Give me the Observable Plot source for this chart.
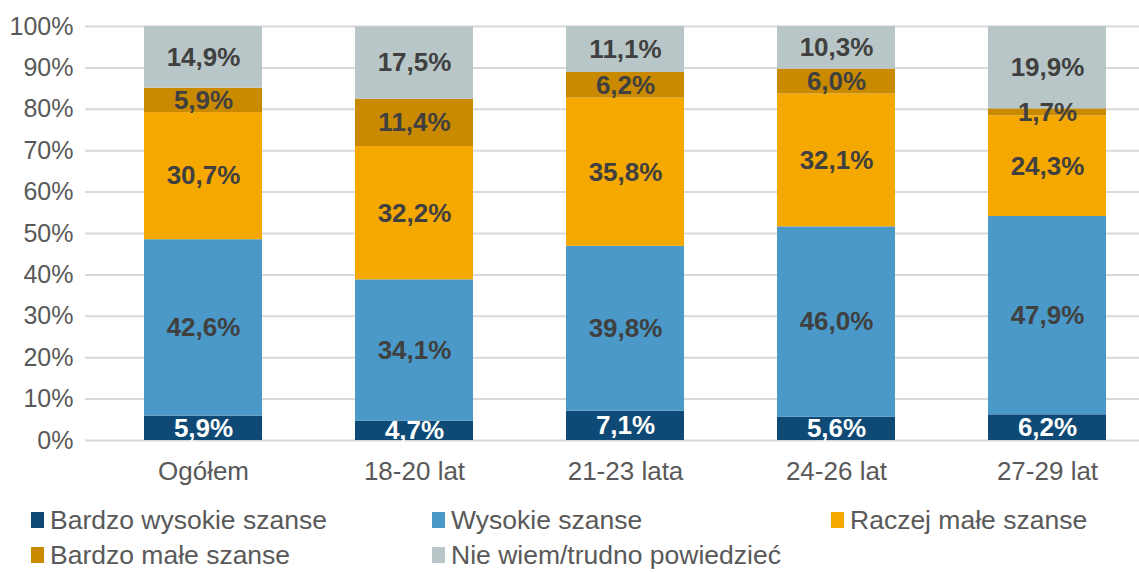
<!DOCTYPE html>
<html><head><meta charset="utf-8">
<script src="https://cdn.jsdelivr.net/npm/d3@7"></script>
<script src="https://cdn.jsdelivr.net/npm/@observablehq/plot@0.6"></script>
<style>
body{margin:0;background:#fff;font-family:"Liberation Sans",Arial,sans-serif;}
#legend{position:relative;width:1139px;height:77px;}
.item{position:absolute;display:flex;align-items:center;height:30px;}
.sw{width:13px;height:16px;margin-right:6px;}
.lbl{font-size:26.5px;color:#595959;white-space:nowrap;}
</style></head>
<body>
<div id="chart"></div>
<div id="legend"></div>
<script>
const categories = ["Ogółem", "18-20 lat", "21-23 lata", "24-26 lat", "27-29 lat"];
const seriesNames = ["Bardzo wysokie szanse", "Wysokie szanse", "Raczej małe szanse", "Bardzo małe szanse", "Nie wiem/trudno powiedzieć"];
const colors = ["#0E4A75", "#4A99C8", "#F5A800", "#C98A00", "#B8C6C7"];
const bardzoWysokie = [5.9, 4.7, 7.1, 5.6, 6.2];
const wysokie = [42.6, 34.1, 39.8, 46.0, 47.9];
const raczejMale = [30.7, 32.2, 35.8, 32.1, 24.3];
const bardzoMale = [5.9, 11.4, 6.2, 6.0, 1.7];
const nieWiem = [14.9, 17.5, 11.1, 10.3, 19.9];
const yTicks = [0, 10, 20, 30, 40, 50, 60, 70, 80, 90, 100];

const seriesValues = [bardzoWysokie, wysokie, raczejMale, bardzoMale, nieWiem];
const data = [];
categories.forEach((c, i) => seriesNames.forEach((s, j) => data.push({cat: c, series: s, value: seriesValues[j][i]})));
const fmt = v => v.toFixed(1).replace(".", ",") + "%";

const chart = Plot.plot({
  width: 1139,
  height: 495,
  marginTop: 26,
  marginBottom: 55,
  marginLeft: 85,
  marginRight: 0,
  style: {fontFamily: "'Liberation Sans', Arial, sans-serif", background: "#fff"},
  x: {domain: categories, range: [97.5, 1152.5], paddingInner: 0.44, paddingOuter: 0.22, align: 0.5, label: null},
  y: {domain: [0, 100], label: null},
  color: {domain: seriesNames, range: colors},
  marks: [
    Plot.ruleY(yTicks, {stroke: "#d9d9d9", strokeWidth: 2}),
    Plot.barY(data, {x: "cat", y: "value", fill: "series"}),
    Plot.text(data, Plot.stackY({x: "cat", y: "value", text: d => fmt(d.value),
      fill: d => d.series === seriesNames[0] ? "#ffffff" : "#404040",
      fontSize: 26, fontWeight: "bold"})),
    Plot.axisY(yTicks, {tickSize: 0, tickPadding: 12, tickFormat: d => d + "%", fontSize: 25, fill: "#595959", label: null}),
    Plot.axisX({tickSize: 0, tickPadding: 21, fontSize: 26, fill: "#595959", label: null})
  ]
});
document.getElementById("chart").appendChild(chart);

const pos = [[31, 10], [432, 10], [831, 10], [31, 45], [432, 45]];
const legend = document.getElementById("legend");
seriesNames.forEach((s, i) => {
  const it = document.createElement("div");
  it.className = "item";
  it.style.left = pos[i][0] + "px";
  it.style.top = pos[i][1] + "px";
  it.innerHTML = `<div class="sw" style="background:${colors[i]}"></div><span class="lbl">${s}</span>`;
  legend.appendChild(it);
});
</script>
</body></html>
